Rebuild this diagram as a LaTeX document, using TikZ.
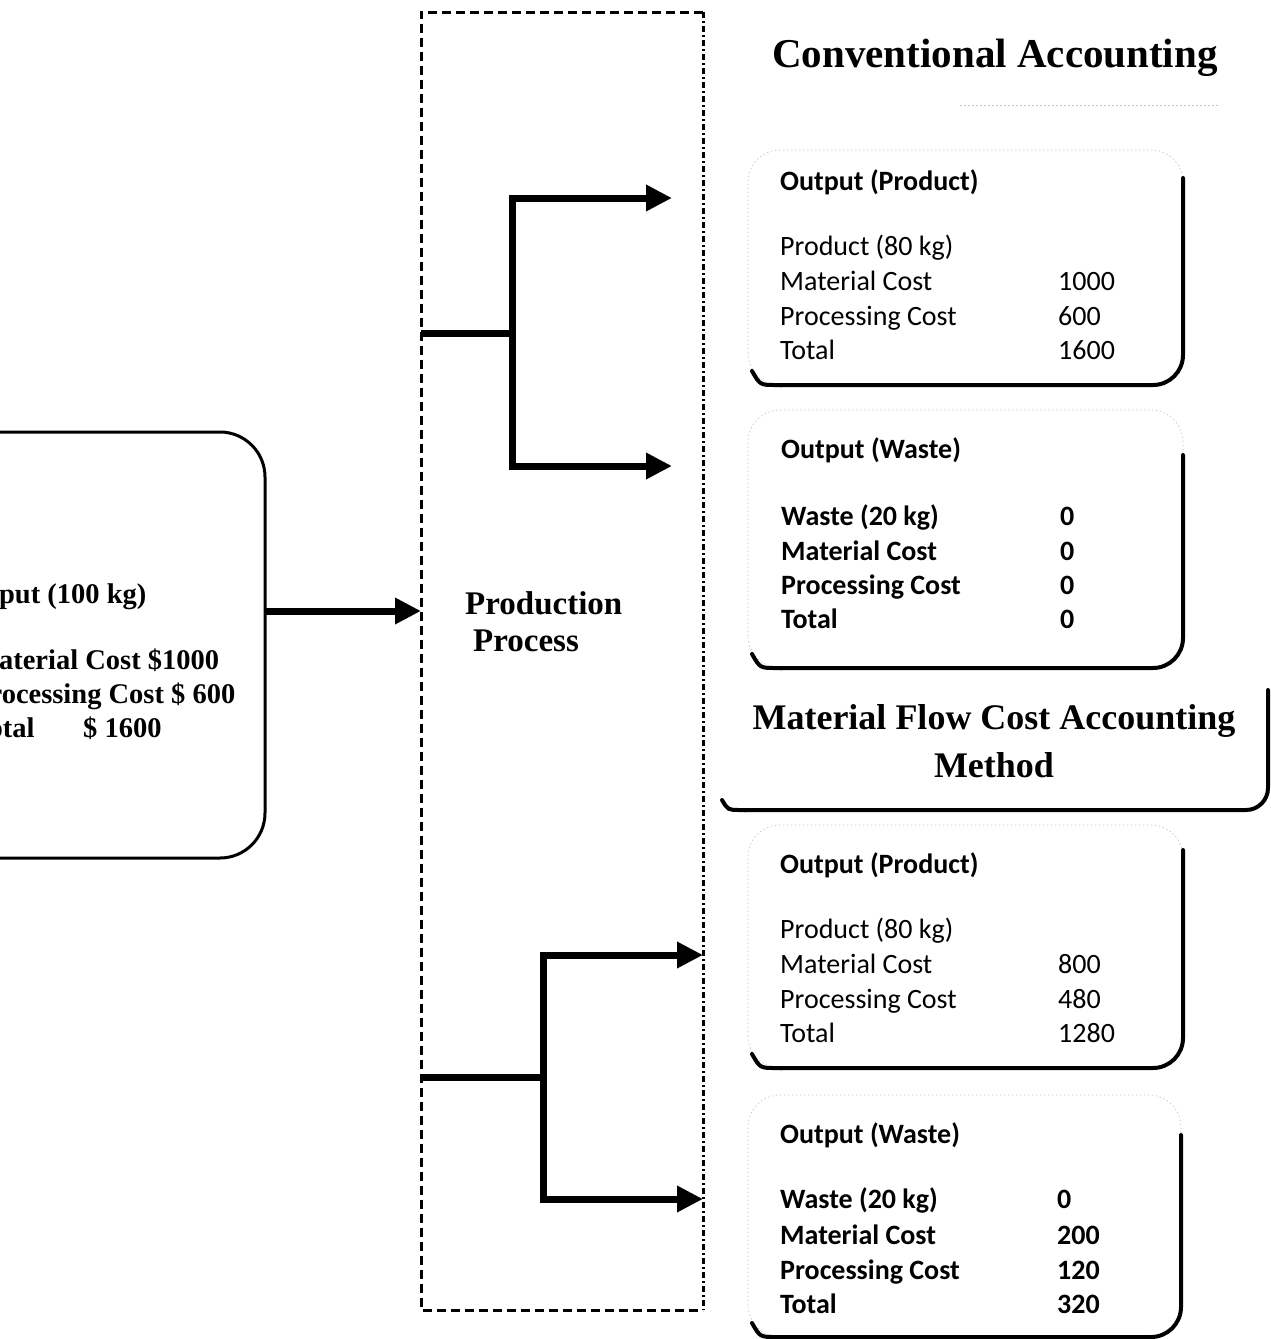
\documentclass[tikz,border=0pt]{standalone}
\usepackage{fontspec}
\setmainfont{Liberation Serif}
\newfontfamily\bodyfont{Carlito}
\usetikzlibrary{arrows.meta}

\tikzset{
  flow/.style={line width=7pt, line join=miter,
    -{Triangle[length=26pt,width=25pt]}},
  stem/.style={line width=7pt},
  hidden/.style={draw=none, inner sep=0pt, outer sep=0pt, rectangle},
  faint/.style={draw=gray!45, line width=0.7pt, dash pattern=on 1.5pt off 2.5pt},
  heavy/.style={draw=black, line width=4pt, line cap=round},
  heading/.style={font=\bfseries\fontsize{41}{48}\selectfont, inner sep=0pt},
  subheading/.style={font=\bfseries\fontsize{36}{48}\selectfont, inner sep=0pt, anchor=base},
  proclabel/.style={font=\bfseries\fontsize{33}{37}\selectfont, inner sep=0pt, anchor=base west},
  intxt/.style={font=\bfseries\fontsize{28.5}{34}\selectfont, inner sep=0pt, anchor=base west},
  rowtxt/.style={font=\bodyfont\fontsize{28}{34}\selectfont, inner sep=0pt, anchor=base west},
  rowbold/.style={font=\bodyfont\bfseries\fontsize{28}{34}\selectfont, inner sep=0pt, anchor=base west},
}

\begin{document}
\begin{tikzpicture}[x=1pt,y=-1pt]
\useasboundingbox (0,0) rectangle (1271,1339);
\clip (0,0) rectangle (1271,1339);

% ---------- production process frame ----------
\node[hidden, minimum width=282pt, minimum height=1298pt] (proc) at (562,661) {};
\draw[line width=3pt, dash pattern=on 9pt off 5pt]
  (proc.north east) -- (proc.north west) -- (proc.south west) -- (proc.south east);
\draw[line width=3pt, dash pattern=on 6pt off 3pt on 2pt off 3pt]
  (proc.north east) -- (proc.south east);
\node[proclabel] (plab1) at (465,614) {Production};
\node[proclabel] (plab2) at (473,651) {Process};

% ---------- input box ----------
\node[hidden, draw, line width=3pt, rounded corners=45pt,
      minimum width=330pt, minimum height=426pt] (input) at (100,645) {};
\node[intxt] (in1) at (-28,603) {Input (100 kg)};
\node[intxt] (in2) at (-28,669) {Material Cost \$1000};
\node[intxt] (in3) at (-28,703) {Processing Cost \$ 600};
\node[intxt] (in4) at (-28,737) {\makebox[111pt][l]{Total}\$ 1600};

\draw[flow] (input.east |- 0,611) -- (proc.west |- 0,611);

% ---------- branching flows ----------
\coordinate (j1) at (512,333);
\coordinate (t1) at (672,198);
\coordinate (t2) at (672,466);
\draw[stem] (proc.west |- j1) -- (j1);
\draw[flow] (j1) |- (t1);
\draw[flow] (j1) |- (t2);

\coordinate (j2) at (543,1077);
\coordinate (t3) at (proc.east |- 0,955);
\coordinate (t4) at (proc.east |- 0,1199);
\draw[stem] (proc.west |- j2) -- (j2);
\draw[flow] (j2) |- (t3);
\draw[flow] (j2) |- (t4);

% ---------- headings ----------
\node[heading, anchor=base] (conv) at (995,67) {Conventional Accounting};
\draw[faint] (960,105) -- (1220,105);

\node[hidden, minimum width=548pt, minimum height=120pt] (mfca) at (994,750) {};
\draw[heavy, rounded corners=22pt]
  ([yshift=60pt]mfca.east) -- (mfca.south east) -- ([xshift=24pt]mfca.south west);
\draw[heavy]
  ([xshift=26pt]mfca.south west) -- ([xshift=20pt]mfca.south west)
  .. controls ([xshift=8pt]mfca.south west) .. ([xshift=2pt,yshift=10pt]mfca.south west);
\node[subheading] (mt1) at (994,729) {Material Flow Cost Accounting};
\node[subheading] (mt2) at (994,777) {Method};

% ---------- output boxes ----------
% box1: conventional product
\node[hidden, minimum width=435pt, minimum height=235pt] (box1) at (965.5,267.5) {};
% box2: conventional waste
\node[hidden, minimum width=435pt, minimum height=258pt] (box2) at (965.5,539) {};
% box3: MFCA product
\node[hidden, minimum width=435pt, minimum height=243pt] (box3) at (965.5,946.5) {};
% box4: MFCA waste
\node[hidden, minimum width=433pt, minimum height=242pt] (box4) at (964.5,1216) {};

\foreach \b/\s in {box1/28, box2/45, box3/25, box4/40}{
  \draw[faint, rounded corners=32pt] (\b.south west) rectangle (\b.north east);
  \draw[heavy, rounded corners=30pt]
    ([yshift=-\s pt]\b.north east) -- (\b.south east) -- ([xshift=32pt]\b.south west);
  \draw[heavy]
    ([xshift=34pt]\b.south west) -- ([xshift=28pt]\b.south west)
    .. controls ([xshift=12pt]\b.south west) .. ([xshift=4pt,yshift=14pt]\b.south west);
}

% box1 rows
\node[rowbold] (b1t) at (780,190) {Output (Product)};
\foreach \lab/\val/\yy [count=\i] in {Product (80 kg)//255, Material Cost/1000/290,
    Processing Cost/600/325, Total/1600/359}
  \node[rowtxt] (b1r\i) at (780,\yy) {\makebox[278pt][l]{\lab}\val};

% box2 rows
\node[rowbold] (b2t) at (781,458) {Output (Waste)};
\foreach \lab/\val/\yy [count=\i] in {Waste (20 kg)/0/525, Material Cost/0/560,
    Processing Cost/0/594, Total/0/628}
  \node[rowbold] (b2r\i) at (781,\yy) {\makebox[279pt][l]{\lab}\val};

% box3 rows
\node[rowbold] (b3t) at (780,873) {Output (Product)};
\foreach \lab/\val/\yy [count=\i] in {Product (80 kg)//938, Material Cost/800/973,
    Processing Cost/480/1008, Total/1280/1042}
  \node[rowtxt] (b3r\i) at (780,\yy) {\makebox[278pt][l]{\lab}\val};

% box4 rows
\node[rowbold] (b4t) at (780,1143) {Output (Waste)};
\foreach \lab/\val/\yy [count=\i] in {Waste (20 kg)/0/1208, Material Cost/200/1244,
    Processing Cost/120/1279, Total/320/1313}
  \node[rowbold] (b4r\i) at (780,\yy) {\makebox[277pt][l]{\lab}\val};
\end{tikzpicture}
\end{document}
